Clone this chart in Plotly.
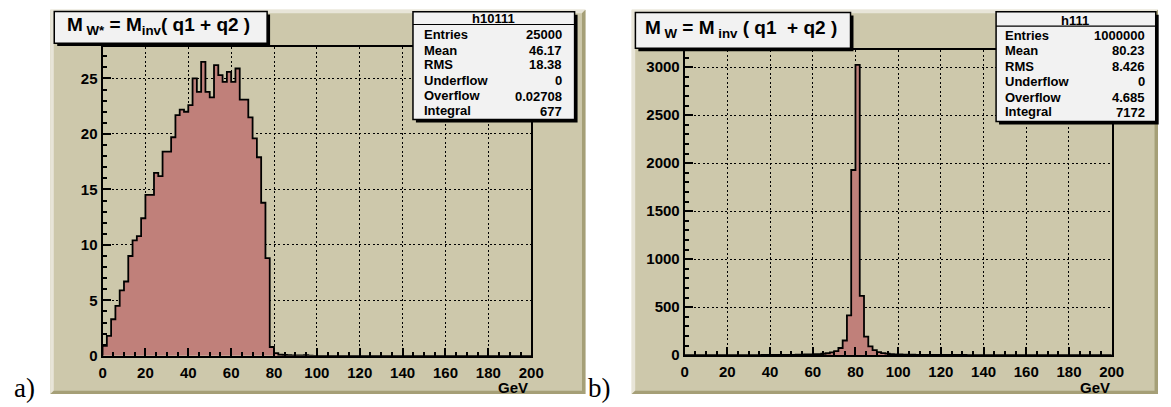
import plotly.graph_objects as go

W, H = 1171, 407

# 100 bins of 2 GeV covering 0-200 GeV
bin_edges = [2 * i for i in range(101)]

# h10111 : M_W* = M_inv(q1 + q2), bin contents
wstar_counts = [
    0.9, 1.8, 3.3, 4.5, 5.9, 6.7, 9.0, 10.4, 10.8, 12.4,
    14.5, 14.5, 16.5, 16.2, 18.4, 18.4, 19.7, 21.7, 22.2, 22.0,
    22.6, 25.0, 23.8, 26.5, 23.8, 23.3, 26.2, 25.3, 24.7, 25.6,
    24.7, 25.9, 23.1, 23.1, 21.5, 19.6, 17.9, 13.8, 8.8, 0.8,
    0.25, 0.1, 0.08, 0.06, 0.05, 0.05, 0.04, 0.06, 0.03, 0.0,
] + [0.0] * 50

# h111 : M_W = M_inv(q1 + q2), bin contents
w_counts = [
    0, 0, 0, 0, 0, 0, 0, 0, 0, 0,
    0, 0, 0, 0, 0, 1, 1, 1, 2, 2,
    2, 2, 3, 3, 4, 4, 5, 6, 7, 8,
    10, 12, 15, 20, 30, 42, 75, 153, 414, 1929,
    3025, 618, 194, 92, 52, 32, 22, 16, 12, 9,
    7, 6, 5, 5, 4, 4, 3, 3, 3, 2,
    2, 2, 2, 2, 2, 2, 1, 1, 1, 1,
    1, 1, 1, 1, 1, 1, 1, 1, 1, 1,
    0.5, 0.5, 0.5, 0.5, 0.5, 0.5, 0.5, 0.5, 0.5, 0.5,
    0.5, 0.5, 0.5, 0.5, 0.5, 0.5, 0.5, 0.5, 0.5, 0.5,
]

wstar_stats = [("Entries", "25000"), ("Mean", "46.17"), ("RMS", "18.38"),
               ("Underflow", "0"), ("Overflow", "0.02708"), ("Integral", "677")]
w_stats = [("Entries", "1000000"), ("Mean", "80.23"), ("RMS", "8.426"),
           ("Underflow", "0"), ("Overflow", "4.685"), ("Integral", "7172")]

CANVAS = "#cdc8ab"
LIGHT = "#e8e5d8"
DARK = "#a59f77"
FILL = "#c0807a"
BOX = "#f2f2f2"
SANS = "Liberation Sans"


def fx(x):
    return x / W


def fy(y):
    return 1 - y / H


def step_xy(counts):
    xs = [bin_edges[0]] + bin_edges
    ys = [0] + list(counts) + [0]
    return xs, ys


fig = go.Figure()

for counts, xa, ya in [(wstar_counts, "x", "y"), (w_counts, "x2", "y2")]:
    xs, ys = step_xy(counts)
    fig.add_trace(go.Scatter(
        x=xs, y=ys, mode="lines", line_shape="hv",
        line=dict(color="black", width=1.8),
        fill="tozeroy", fillcolor=FILL,
        xaxis=xa, yaxis=ya, hoverinfo="skip", showlegend=False,
    ))

tickfont = dict(family=SANS, size=15, color="black", weight="bold")


def axis(domain, rng, dtick, minor_dtick, anchor, standoff=0):
    return dict(
        domain=domain, range=rng, anchor=anchor,
        tick0=0, dtick=dtick,
        showline=True, linecolor="black", linewidth=2, mirror=True,
        ticks="inside", ticklen=8, tickwidth=1.5, tickcolor="black",
        minor=dict(dtick=minor_dtick, ticks="inside", ticklen=4,
                   tickwidth=1.5, tickcolor="black", showgrid=False),
        showgrid=True, gridcolor="black", gridwidth=1.3,
        griddash="2px,2.5px", zeroline=False,
        tickfont=tickfont, fixedrange=True,
        ticklabelstandoff=standoff,
    )


shapes = []


def rect(x0, y0, x1, y1, fill, line_color=None, line_width=0, layer="above"):
    shapes.append(dict(
        type="rect", xref="paper", yref="paper",
        x0=fx(x0), x1=fx(x1), y0=fy(y1), y1=fy(y0),
        fillcolor=fill, layer=layer,
        line=dict(color=line_color or fill, width=line_width),
    ))


def path(points, fill, layer="below"):
    d = "M " + " L ".join(f"{fx(x)},{fy(y)}" for x, y in points) + " Z"
    shapes.append(dict(type="path", xref="paper", yref="paper", path=d,
                       fillcolor=fill, line=dict(width=0), layer=layer))


# Canvas pads with a bevelled border
for x0, y0, x1, y1 in [(47, 10, 590, 402), (637, 10, 1171, 402)]:
    rect(x0, y0, x1, y1, CANVAS, layer="below")
    b = 3.5
    path([(x0, y0), (x1, y0), (x1 - b, y0 + b), (x0 + b, y0 + b),
          (x0 + b, y1 - b), (x0, y1)], LIGHT)
    path([(x1, y0), (x1, y1), (x0, y1), (x0 + b, y1 - b),
          (x1 - b, y1 - b), (x1 - b, y0 + b)], DARK)

# Title and statistics boxes with drop shadows
boxes = [
    (51, 11.7, 267, 44),
    (640.7, 12.7, 859, 49.3),
    (415, 12, 579, 122),
    (1006.7, 12, 1168.7, 124),
]
for x0, y0, x1, y1 in boxes:
    rect(x0 + 3, y0 + 3, x1 + 3, y1 + 3, "black")
    rect(x0, y0, x1, y1, BOX, "black", 1.5)

# header separators of the stats boxes
for x0, x1, y in [(415, 579, 25), (1006.7, 1168.7, 26.7)]:
    shapes.append(dict(type="line", xref="paper", yref="paper",
                       x0=fx(x0), x1=fx(x1), y0=fy(y), y1=fy(y),
                       line=dict(color="black", width=1.2), layer="above"))

annotations = []


def text(x, y, s, size=13, xanchor="center", family=SANS, weight="bold",
         yanchor="middle"):
    annotations.append(dict(
        x=fx(x), y=fy(y), xref="paper", yref="paper", text=s,
        showarrow=False, xanchor=xanchor, yanchor=yanchor,
        font=dict(family=family, size=size, color="black", weight=weight),
    ))


text(157, 27, "M<sub> W*</sub> = M<sub>inv</sub>( q1 + q2 )", size=19)
text(748, 30, "M<sub> W</sub> = M<sub> inv</sub> ( q1&nbsp; + q2 )", size=19)

text(497, 19, "h10111", size=13)
text(1087, 21, "h111", size=13)

left_label_y = [35, 51.5, 65.5, 81.7, 97.7, 112.7]
left_value_y = [35, 52, 66, 82, 98, 114]
for (lab, val), ly, vy in zip(wstar_stats, left_label_y, left_value_y):
    text(424, ly, lab, xanchor="left")
    text(568.5, vy, val, xanchor="right")

right_label_y = [36, 51.7, 67.7, 83.3, 99, 113.3]
right_value_y = [36, 51.7, 67.7, 83.3, 99, 115]
for (lab, val), ly, vy in zip(w_stats, right_label_y, right_value_y):
    text(1014, ly, lab, xanchor="left")
    text(1159.5, vy, val, xanchor="right")

# axis titles
text(534, 395, "GeV", size=15, xanchor="right")
text(1124, 395, "GeV", size=15, xanchor="right")

# panel tags
text(8, 396, "a)", size=27, xanchor="left", family="Liberation Serif",
     weight="normal")
text(591, 396, "b)", size=27, xanchor="left", family="Liberation Serif",
     weight="normal")

fig.update_layout(
    width=W, height=H,
    margin=dict(l=0, r=0, t=0, b=0),
    paper_bgcolor="white",
    plot_bgcolor=CANVAS,
    showlegend=False,
    xaxis=axis([fx(100), fx(535)], [0, 200], 20, 5, "y", standoff=2),
    yaxis=axis([fy(363), fy(48)], [0, 27.83], 5, 1, "x"),
    xaxis2=axis([fx(690.7), fx(1124)], [0, 200], 20, 5, "y2", standoff=2),
    yaxis2=axis([fy(362.3), fy(51.3)], [0, 3176], 500, 100, "x2"),
    shapes=shapes,
    annotations=annotations,
)

fig.write_html("out.html")
